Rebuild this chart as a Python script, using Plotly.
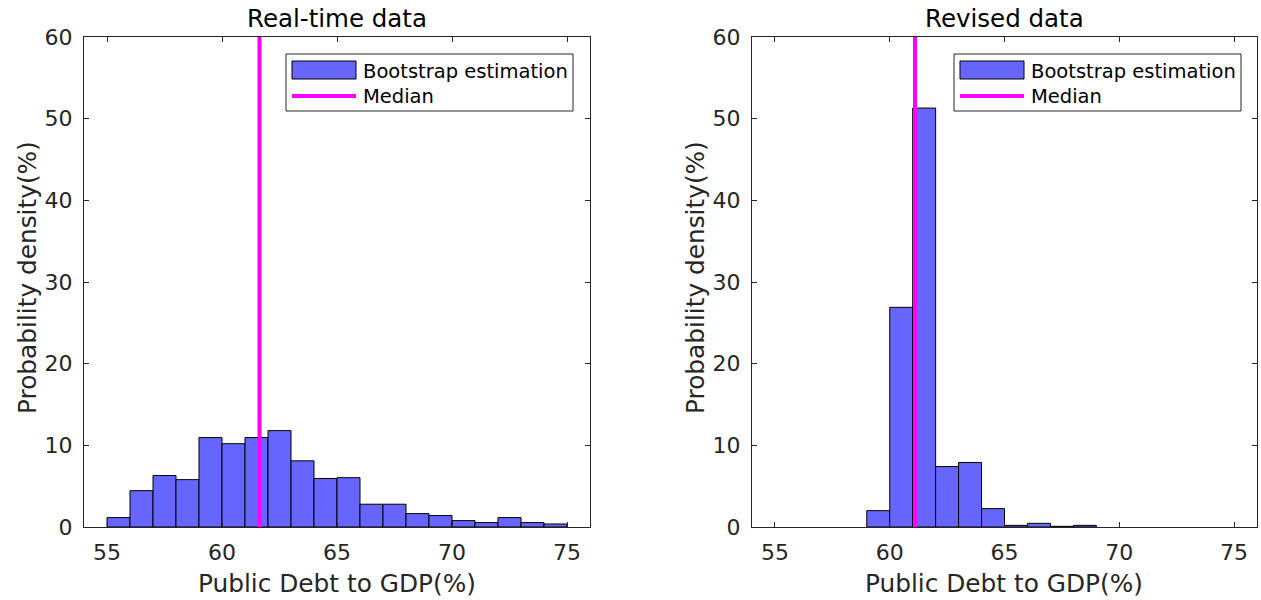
import plotly.graph_objects as go

# Bin left edges (Public Debt to GDP, %) and probability densities (%)
realtime_edges = list(range(55, 75))
realtime_density = [1.15, 4.45, 6.3, 5.8, 10.95, 10.2, 10.95, 11.8, 8.1, 5.94,
                    6.04, 2.79, 2.79, 1.64, 1.4, 0.78, 0.54, 1.15, 0.54, 0.37]
realtime_median = 61.63

revised_edges = list(range(59, 69))
revised_density = [2.0, 26.9, 51.3, 7.4, 7.9, 2.25, 0.2, 0.45, 0.08, 0.2]
revised_median = 61.1

titles = ["Real-time data", "Revised data"]
x_ticks = [55, 60, 65, 70, 75]
y_ticks = [0, 10, 20, 30, 40, 50, 60]
x_label = "Public Debt to GDP(%)"
y_label = "Probability density(%)"
legend_labels = ["Bootstrap estimation", "Median"]

FONT = "DejaVu Sans"
AXIS_COLOR = "#262626"
BAR_COLOR = "#6666FF"
MEDIAN_COLOR = "#FF00FF"

W, H = 1261, 600
panels = [
    dict(x0=84, x1=590, edges=realtime_edges, dens=realtime_density, med=realtime_median),
    dict(x0=752, x1=1257, edges=revised_edges, dens=revised_density, med=revised_median),
]
plot_top, plot_bottom = 37, 527

fig = go.Figure()
layout = dict(
    width=W, height=H,
    margin=dict(l=0, r=0, t=0, b=0, pad=0, autoexpand=False),
    paper_bgcolor="white", plot_bgcolor="white",
    showlegend=False,
    font=dict(family=FONT, size=22, color=AXIS_COLOR),
    shapes=[], annotations=[],
)

for i, p in enumerate(panels):
    n = "" if i == 0 else str(i + 1)
    xa, ya = "x" + n, "y" + n
    fig.add_trace(go.Bar(
        x=p["edges"], y=p["dens"], width=1, offset=0,
        marker=dict(color=BAR_COLOR, line=dict(color="black", width=1)),
        xaxis=xa, yaxis=ya, name=legend_labels[0],
    ))
    fig.add_trace(go.Scatter(
        x=[p["med"], p["med"]], y=[0, 60], mode="lines",
        line=dict(color=MEDIAN_COLOR, width=4),
        xaxis=xa, yaxis=ya, name=legend_labels[1],
    ))
    dom_x = [p["x0"] / W, p["x1"] / W]
    dom_y = [1 - plot_bottom / H, 1 - plot_top / H]
    axis_common = dict(
        showline=True, linecolor=AXIS_COLOR, linewidth=1, mirror="ticks",
        ticks="inside", ticklen=5, tickcolor=AXIS_COLOR, tickwidth=1,
        showgrid=False, zeroline=False, fixedrange=True, automargin=False,
        tickfont=dict(family=FONT, size=22, color=AXIS_COLOR),
    )
    layout["xaxis" + n] = dict(axis_common, domain=dom_x, range=[54, 76],
                               tickvals=x_ticks, anchor=ya, ticklabelstandoff=6)
    layout["yaxis" + n] = dict(axis_common, domain=dom_y, range=[0, 60],
                               tickvals=y_ticks, anchor=xa, ticklabelstandoff=6)

    cx = (p["x0"] + p["x1"]) / 2 / W
    # panel title
    layout["annotations"].append(dict(
        text=titles[i], x=cx, y=1 - 18 / H, xref="paper", yref="paper",
        showarrow=False, xanchor="center", yanchor="middle",
        font=dict(family=FONT, size=24.5, color="black")))
    # axis titles
    layout["annotations"].append(dict(
        text=x_label, x=cx, y=1 - 583 / H, xref="paper", yref="paper",
        showarrow=False, xanchor="center", yanchor="middle",
        font=dict(family=FONT, size=24.8, color=AXIS_COLOR)))
    layout["annotations"].append(dict(
        text=y_label, x=(p["x0"] - 57) / W, y=1 - 278 / H,
        xref="paper", yref="paper", textangle=-90,
        showarrow=False, xanchor="center", yanchor="middle",
        font=dict(family=FONT, size=24.8, color=AXIS_COLOR)))

    # legend box with patch and line keys
    lx0, lx1 = p["x0"] + 202, p["x0"] + 489
    ly0, ly1 = 54, 111
    layout["shapes"].append(dict(
        type="rect", xref="paper", yref="paper",
        x0=lx0 / W, x1=lx1 / W, y0=1 - ly1 / H, y1=1 - ly0 / H,
        line=dict(color=AXIS_COLOR, width=1), fillcolor="white", layer="above"))
    layout["shapes"].append(dict(
        type="rect", xref="paper", yref="paper",
        x0=(lx0 + 6) / W, x1=(lx0 + 70) / W, y0=1 - 79 / H, y1=1 - 61 / H,
        line=dict(color="black", width=1), fillcolor=BAR_COLOR, layer="above"))
    layout["shapes"].append(dict(
        type="line", xref="paper", yref="paper",
        x0=(lx0 + 6) / W, x1=(lx0 + 70) / W, y0=1 - 96 / H, y1=1 - 96 / H,
        line=dict(color=MEDIAN_COLOR, width=4), layer="above"))
    layout["annotations"].append(dict(
        text="<br>".join(legend_labels), x=(lx0 + 75) / W, y=1 - 84 / H,
        xref="paper", yref="paper", align="left",
        showarrow=False, xanchor="left", yanchor="middle",
        font=dict(family=FONT, size=19.5, color="black")))

fig.update_layout(**layout)
fig.write_html("out.html")
